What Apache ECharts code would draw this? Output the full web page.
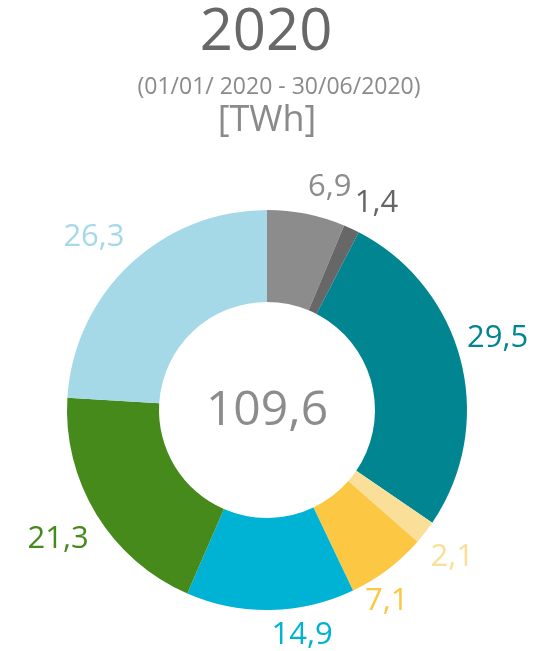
<!DOCTYPE html>
<html>
<head>
<meta charset="utf-8">
<script src="https://cdn.jsdelivr.net/npm/echarts@6/dist/echarts.min.js"></script>
<style>
  html, body { margin: 0; padding: 0; background: #fff; }
  #chart { width: 547px; height: 651px; }
</style>
</head>
<body>
<div id="chart"></div>
<script>
// 数据 (TWh)，从顶部顺时针
const names = ['Grey', 'Dark grey', 'Teal', 'Light yellow', 'Yellow', 'Cyan', 'Green', 'Light blue']
const values = [6.9, 1.4, 29.5, 2.1, 7.1, 14.9, 21.3, 26.3]
const total = 109.6
const titleText = '2020'
const subText = '(01/01/ 2020 - 30/06/2020)'
const unitText = '[TWh]'

// 样式
const colors = ['#8c8c8c', '#676767', '#008591', '#fadf98', '#fcc843', '#00b2d3', '#468a1c', '#a6d9e7']
const labelColors = ['#8c8c8c', '#666666', '#008591', '#fadf98', '#fcc843', '#00b2d3', '#468a1c', '#a6d9e7']
// 标签微调 (像 Tableau 那样避让)
const labelNudge = [[16, 11], [9, 9], [0, -13], [-3, 2], [-24, 1], [31, -13], [-6, 5], [-10, 1]]

const fmt = v => String(v).replace('.', ',')
const FONT = '"Open Sans", "Noto Sans", sans-serif'

let myChart = echarts.init(document.getElementById('chart'))
myChart.setOption({
  animation: false,
  graphic: [
    {
      type: 'text', x: 266, y: 33,
      style: { text: titleText, textAlign: 'center', textVerticalAlign: 'middle', fontSize: 58, fontFamily: FONT, fill: '#686868' }
    },
    {
      type: 'text', x: 279, y: 87,
      style: { text: subText, textAlign: 'center', textVerticalAlign: 'middle', fontSize: 23, fontFamily: FONT, fill: '#8a8a8a' }
    },
    {
      type: 'text', x: 267, y: 121,
      style: { text: unitText, textAlign: 'center', textVerticalAlign: 'middle', fontSize: 36, fontFamily: FONT, fill: '#8a8a8a' }
    },
    {
      type: 'text', x: 267, y: 411,
      style: { text: fmt(total), textAlign: 'center', textVerticalAlign: 'middle', fontSize: 48, fontFamily: FONT, fill: '#8c8c8c' }
    }
  ],
  series: [
    {
      // 环形图
      type: 'pie',
      center: [267, 410],
      radius: [108, 200],
      startAngle: 90,
      clockwise: true,
      silent: true,
      itemStyle: { borderWidth: 0 },
      label: { show: false },
      labelLine: { show: false },
      data: values.map((v, i) => ({ name: names[i], value: v, itemStyle: { color: colors[i] } }))
    },
    {
      // 透明外环，只用来放数值标签
      type: 'pie',
      center: [267, 410],
      radius: [225, 245],
      startAngle: 90,
      clockwise: true,
      silent: true,
      itemStyle: { color: 'rgba(0,0,0,0)', borderWidth: 0 },
      label: {
        show: true,
        position: 'inside',
        fontFamily: FONT,
        fontSize: 31,
        formatter: p => fmt(p.value)
      },
      labelLine: { show: false },
      data: values.map((v, i) => ({
        name: names[i],
        value: v,
        label: { color: labelColors[i], offset: labelNudge[i] }
      }))
    }
  ]
})
</script>
</body>
</html>
